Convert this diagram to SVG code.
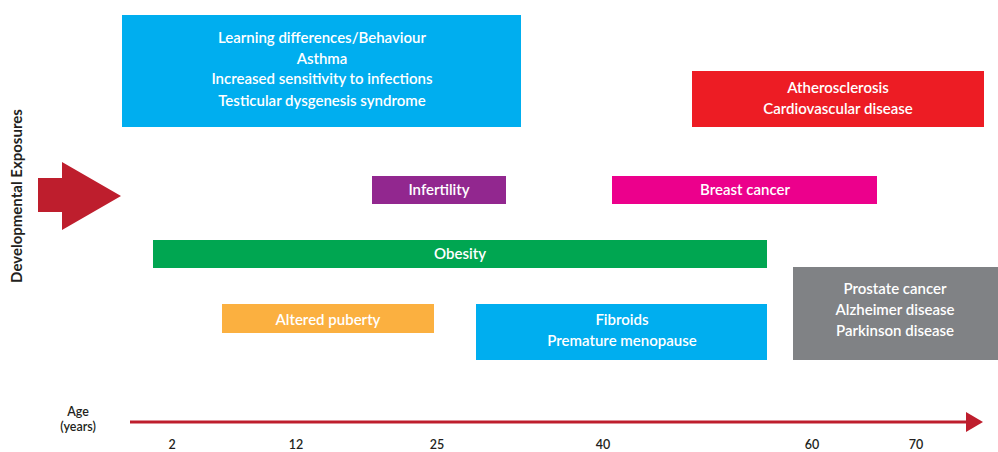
<svg xmlns="http://www.w3.org/2000/svg" width="998" height="452" viewBox="0 0 998 452">
<defs>
<style>
.t{font-family:Lato,"Open Sans","Liberation Sans",sans-serif;font-size:15px;font-weight:600;fill:#fff;text-anchor:middle;}
.a{font-family:Lato,"Open Sans","Liberation Sans",sans-serif;font-size:12.5px;font-weight:600;fill:#231f20;text-anchor:middle;}
</style>
<marker id="ah" markerWidth="17" markerHeight="20" refX="0" refY="10" orient="auto" markerUnits="userSpaceOnUse">
<path d="M0,0 L17,10 L0,20 Z" fill="#be1e2d"/>
</marker>
</defs>
<rect width="998" height="452" fill="#fff"/>
<g id="label-exposures">
<text transform="translate(22,196) rotate(-90)" font-family="Lato,'Open Sans','Liberation Sans',sans-serif" font-size="15" font-weight="bold" fill="#231f20" text-anchor="middle">Developmental Exposures</text>
</g>
<g id="exposure-arrow">
<polygon points="38,178 62,178 62,162 121,196 62,230 62,212 38,212" fill="#be1e2d"/>
</g>
<g id="early-life">
<rect x="122" y="15" width="399" height="112" fill="#00aeef"/>
<text class="t" x="322" y="43">Learning differences/Behaviour</text>
<text class="t" x="322" y="64">Asthma</text>
<text class="t" x="322" y="84">Increased sensitivity to infections</text>
<text class="t" x="322" y="106">Testicular dysgenesis syndrome</text>
</g>
<g id="cardio">
<rect x="692" y="71" width="292" height="56" fill="#ed1c24"/>
<text class="t" x="838" y="93">Atherosclerosis</text>
<text class="t" x="838" y="114">Cardiovascular disease</text>
</g>
<g id="infertility">
<rect x="372" y="176" width="134" height="28" fill="#92278f"/>
<text class="t" x="439" y="195">Infertility</text>
</g>
<g id="breast-cancer">
<rect x="612" y="176" width="265" height="28" fill="#ec008c"/>
<text class="t" x="745" y="195">Breast cancer</text>
</g>
<g id="obesity">
<rect x="153" y="240" width="614" height="28" fill="#00a651"/>
<text class="t" x="460" y="259">Obesity</text>
</g>
<g id="puberty">
<rect x="222" y="304" width="212" height="29" fill="#fbb040"/>
<text class="t" x="328" y="325">Altered puberty</text>
</g>
<g id="fibroids">
<rect x="476" y="304" width="291" height="56" fill="#00aeef"/>
<text class="t" x="622" y="325">Fibroids</text>
<text class="t" x="622" y="346">Premature menopause</text>
</g>
<g id="late-life">
<rect x="793" y="267" width="205" height="93" fill="#808285"/>
<text class="t" x="895" y="294">Prostate cancer</text>
<text class="t" x="895" y="315">Alzheimer disease</text>
<text class="t" x="895" y="336">Parkinson disease</text>
</g>
<g id="connectors">
<line x1="130" y1="422" x2="966" y2="422" stroke="#be1e2d" stroke-width="3" marker-end="url(#ah)"/>
</g>
<g id="axis-labels">
<text class="a" x="78" y="416">Age</text>
<text class="a" x="78" y="431">(years)</text>
<text class="a" x="172" y="449">2</text>
<text class="a" x="296" y="449">12</text>
<text class="a" x="437" y="449">25</text>
<text class="a" x="603" y="449">40</text>
<text class="a" x="812" y="449">60</text>
<text class="a" x="916" y="449">70</text>
</g>
</svg>
